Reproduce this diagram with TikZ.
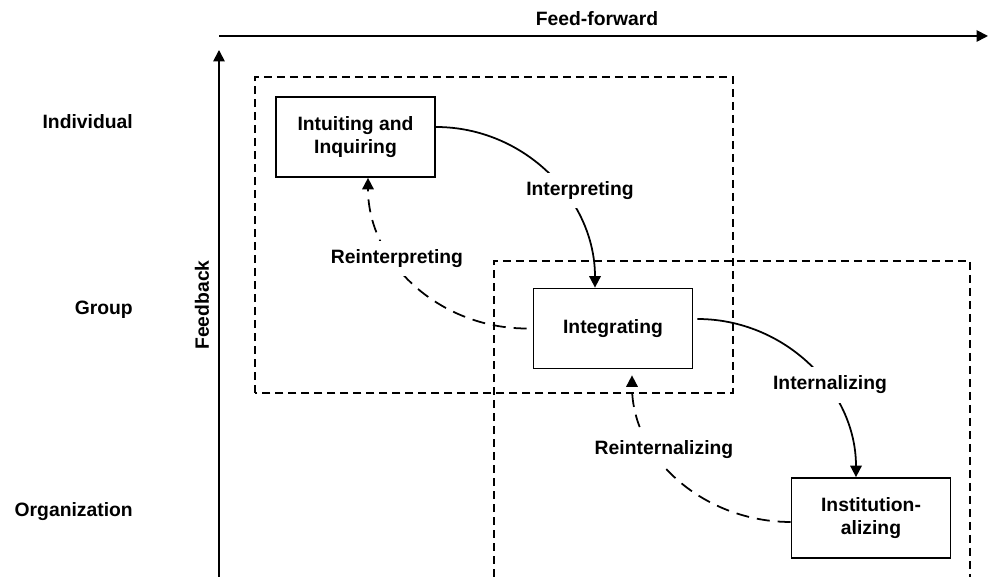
\documentclass[tikz,border=0pt]{standalone}
\usepackage{fontspec}
\setmainfont{Liberation Sans}
\usetikzlibrary{positioning, arrows.meta}

\begin{document}
\begin{tikzpicture}[x=0.02cm, y=0.02cm, font=\fontsize{11}{13}\selectfont\bfseries,
		box/.style={draw, line width=1pt, minimum width=3.18cm, minimum height=1.6cm, align=center, inner sep=0pt},
		lbl/.style={fill=white, inner sep=5pt},
		tip/.style={-{Triangle[length=2.3mm, width=2.3mm]}},
		flow/.style={tip, line width=1pt},
		back/.style={tip, line width=1pt, dash pattern=on 2.6mm off 1.6mm},
		area/.style={line width=0.9pt, dash pattern=on 1.6mm off 1mm}]
		\useasboundingbox (0,0) rectangle (988,577);
		
		\coordinate (o) at (219,0);
		\coordinate (a) at (219,527);
		\coordinate (c) at (219,541);
		\coordinate (d) at (988,541);
		\draw[tip, line width=1pt] (o) -- (a);
		\draw[tip, line width=1pt] (c) -- (d);
		\node (ff) at (597,558) {Feed-forward};
		\node[rotate=90] (fb) at (202,272) {Feedback};
		
		\node[anchor=east] (r1) at (139,455) {Individual};
		\node[anchor=east] (r2) at (139,267) {Group};
		\node[anchor=east] (r3) at (139,65.5) {Organization};
		
		\draw[area] (255,184) rectangle (733,500);
		\draw[area] (494,0) -- (494,316) -- (970,316) -- (970,0);
		
		\node[box] (b1) at (355.5,440) {Intuiting and\\Inquiring};
		\node[box] (b2) at (613,248.5) {Integrating};
		\node[box] (b3) at (871,59) {Institution-\\alizing};
		
		\draw[flow] ([yshift=0.2cm]b1.east) to[out=0, in=90] ([xshift=-0.36cm]b2.north);
		\draw[back] ([xshift=-0.12cm]b2.west) to[out=180, in=-90] ([xshift=0.25cm]b1.south);
		\draw[flow] ([xshift=0.08cm, yshift=0.19cm]b2.east) to[out=0, in=90] ([xshift=-0.3cm]b3.north);
		\draw[back] ([yshift=-0.08cm]b3.west) to[out=180, in=-90] ([xshift=0.38cm, yshift=-0.12cm]b2.south);
		
		\node[lbl] (t1) at (580,386.5) {Interpreting};
		\node[lbl] (t2) at (397,318.5) {Reinterpreting};
		\node[lbl] (t3) at (830,192) {Internalizing};
		\node[lbl] (t4) at (664,127) {Reinternalizing};
	\end{tikzpicture}
\end{document}
